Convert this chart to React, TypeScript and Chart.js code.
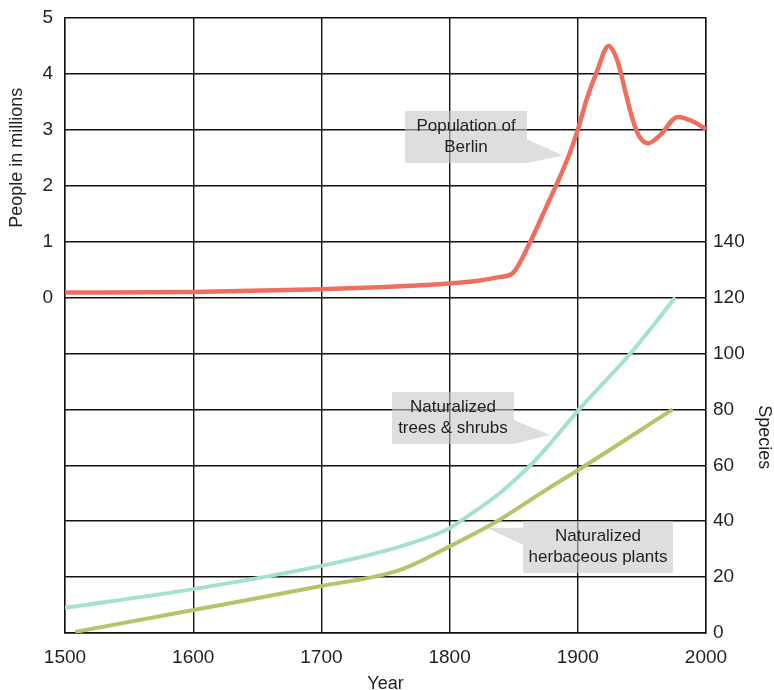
import React, { useEffect, useRef } from 'react';
import { Chart, registerables } from 'chart.js';

Chart.register(...registerables);

// ---- Data ----
const berlinYears = [1500, 1600, 1700, 1750, 1800, 1825, 1840, 1849, 1863, 1875, 1884, 1894, 1900, 1907, 1915, 1924, 1929, 1933, 1938, 1943, 1948, 1955, 1964, 1978, 1990, 2000];
const berlinMillions = [0.09, 0.1, 0.15, 0.19, 0.25, 0.31, 0.37, 0.43, 1.0, 1.6, 2.05, 2.6, 3.0, 3.55, 4.05, 4.5, 4.35, 4.07, 3.6, 3.17, 2.88, 2.76, 2.9, 3.23, 3.15, 3.01];

const treeYears = [1500, 1600, 1700, 1761, 1800, 1810, 1839, 1863, 1878, 1901, 1941, 1976];
const treeSpecies = [9, 15.7, 24, 30.9, 37.5, 40.5, 50, 60, 67.5, 80, 100, 120];

const herbYears = [1508, 1600, 1700, 1761, 1800, 1837, 1878, 1901, 1974];
const herbSpecies = [0.4, 8.2, 16.8, 22.5, 31, 40, 52, 58.5, 80];

const yearTicks = [1500, 1600, 1700, 1800, 1900, 2000];
const peopleTicks = [0, 1, 2, 3, 4, 5];
const speciesTicks = [0, 20, 40, 60, 80, 100, 120, 140];

const FONT = '"Liberation Sans", Arial, Helvetica, sans-serif';
const TEXT = '#231f20';

// Callout boxes (positions anchored in data units)
const callouts = [
  { lines: ['Population of', 'Berlin'], axis: 'y', x: 1812.8, y: 2.87, w: 122, h: 52, tipX: 1888.5, tipY: 2.54, side: 'right', t0: 0.54, t1: 1.0 },
  { lines: ['Naturalized', 'trees & shrubs'], axis: 'y2', x: 1802.6, y: 76.9, w: 122, h: 52, tipX: 1878.3, tipY: 70.8, side: 'right', t0: 0.54, t1: 1.0 },
  { lines: ['Naturalized', 'herbaceous plants'], axis: 'y2', x: 1915.8, y: 30.8, w: 150, h: 52, tipX: 1829.2, tipY: 37.6, side: 'left', t0: 0.13, t1: 0.46 },
];

const calloutPlugin = {
  id: 'callouts',
  afterDatasetsDraw(chart: any) {
    const ctx = chart.ctx as CanvasRenderingContext2D;
    const xs = chart.scales.x;
    for (const c of callouts) {
      const ys = chart.scales[c.axis];
      const cx = xs.getPixelForValue(c.x);
      const cy = ys.getPixelForValue(c.y);
      const left = cx - c.w / 2;
      const top = cy - c.h / 2;
      const edgeX = c.side === 'right' ? left + c.w : left;
      const tx = xs.getPixelForValue(c.tipX);
      const ty = ys.getPixelForValue(c.tipY);
      ctx.save();
      ctx.fillStyle = 'rgba(198,200,200,0.6)';
      ctx.beginPath();
      ctx.rect(left, top, c.w, c.h);
      ctx.fill();
      ctx.beginPath();
      ctx.moveTo(edgeX, top + c.h * c.t0);
      ctx.lineTo(tx, ty);
      ctx.lineTo(edgeX, top + c.h * c.t1);
      ctx.closePath();
      ctx.fill();
      ctx.fillStyle = TEXT;
      ctx.font = `17px ${FONT}`;
      ctx.textAlign = 'center';
      ctx.textBaseline = 'middle';
      ctx.fillText(c.lines[0], cx, cy - 10.5);
      ctx.fillText(c.lines[1], cx, cy + 10.5);
      ctx.restore();
    }
  },
};

const titlePlugin = {
  id: 'yTitles',
  afterDraw(chart: any) {
    const ctx = chart.ctx as CanvasRenderingContext2D;
    const y = chart.scales.y;
    const y2 = chart.scales.y2;
    ctx.save();
    ctx.fillStyle = TEXT;
    ctx.font = `18px ${FONT}`;
    ctx.textAlign = 'center';
    ctx.textBaseline = 'middle';
    const ly = y.getPixelForValue((peopleTicks[0] + peopleTicks[peopleTicks.length - 1]) / 2);
    ctx.translate(17, ly);
    ctx.rotate(-Math.PI / 2);
    ctx.fillText('People in millions', 0, 0);
    ctx.restore();
    ctx.save();
    ctx.fillStyle = TEXT;
    ctx.font = `18px ${FONT}`;
    ctx.textAlign = 'center';
    ctx.textBaseline = 'middle';
    const ry = y2.getPixelForValue((speciesTicks[0] + speciesTicks[speciesTicks.length - 1]) / 2);
    ctx.translate(764, ry);
    ctx.rotate(Math.PI / 2);
    ctx.fillText('Species', 0, 0);
    ctx.restore();
  },
};

const toPoints = (xs: number[], ys: number[]) => xs.map((x, i) => ({ x, y: ys[i] }));

export default function App() {
  const ref = useRef<HTMLCanvasElement | null>(null);
  useEffect(() => {
    if (!ref.current) return;
    const chart = new Chart(ref.current, {
      type: 'line',
      data: {
        datasets: [
          {
            label: 'Population of Berlin',
            data: toPoints(berlinYears, berlinMillions),
            yAxisID: 'y',
            borderColor: '#ee6e60',
            borderWidth: 4.5,
            pointRadius: 0,
            cubicInterpolationMode: 'monotone',
            fill: false,
          },
          {
            label: 'Naturalized trees & shrubs',
            data: toPoints(treeYears, treeSpecies),
            yAxisID: 'y2',
            borderColor: '#a4e1d3',
            borderWidth: 4,
            pointRadius: 0,
            cubicInterpolationMode: 'monotone',
            fill: false,
          },
          {
            label: 'Naturalized herbaceous plants',
            data: toPoints(herbYears, herbSpecies),
            yAxisID: 'y2',
            borderColor: '#b3c46a',
            borderWidth: 4,
            pointRadius: 0,
            cubicInterpolationMode: 'monotone',
            fill: false,
          },
        ],
      },
      options: {
        responsive: false,
        animation: false,
        layout: { padding: { top: 18, left: 0, right: 0, bottom: 0 } },
        plugins: { legend: { display: false }, tooltip: { enabled: false } },
        scales: {
          x: {
            type: 'linear',
            min: yearTicks[0],
            max: yearTicks[yearTicks.length - 1],
            afterBuildTicks: (s: any) => { s.ticks = yearTicks.map((v) => ({ value: v })); },
            ticks: { color: TEXT, font: { family: FONT, size: 19 }, padding: 13, maxRotation: 0, callback: (v: any) => String(v) },
            grid: { color: '#111', lineWidth: 1.4, drawTicks: false },
            border: { color: '#111', width: 1.4 },
            title: { display: true, text: 'Year', color: TEXT, font: { family: FONT, size: 18, lineHeight: 1 }, padding: { top: 0, bottom: -3 } },
            afterFit: (s: any) => { s.height = 57; s.paddingLeft = 0; s.paddingRight = 0; },
          },
          y: {
            position: 'left',
            min: -6,
            max: 5,
            ticks: {
              stepSize: 1,
              color: TEXT,
              font: { family: FONT, size: 19 },
              padding: 12,
              callback: (v: any) => (peopleTicks.includes(Number(v)) ? String(v) : ''),
            },
            grid: { color: '#111', lineWidth: 1.4, drawTicks: false },
            border: { color: '#111', width: 1.4 },
            afterFit: (s: any) => { s.width = 65; s.paddingTop = 0; s.paddingBottom = 0; },
          },
          y2: {
            position: 'right',
            min: 0,
            max: 220,
            ticks: {
              stepSize: 20,
              color: TEXT,
              font: { family: FONT, size: 19 },
              padding: 7,
              callback: (v: any) => (speciesTicks.includes(Number(v)) ? String(v) : ''),
            },
            grid: { display: false, drawTicks: false },
            border: { color: '#111', width: 1.4 },
            afterFit: (s: any) => { s.width = 68; s.paddingTop = 0; s.paddingBottom = 0; },
          },
        },
      },
      plugins: [calloutPlugin, titlePlugin],
    } as any);
    return () => chart.destroy();
  }, []);
  return (
    <div style={{ position: 'absolute', left: 0, top: 0, width: 774, height: 690 }}>
      <canvas ref={ref} width={774} height={690} />
    </div>
  );
}
